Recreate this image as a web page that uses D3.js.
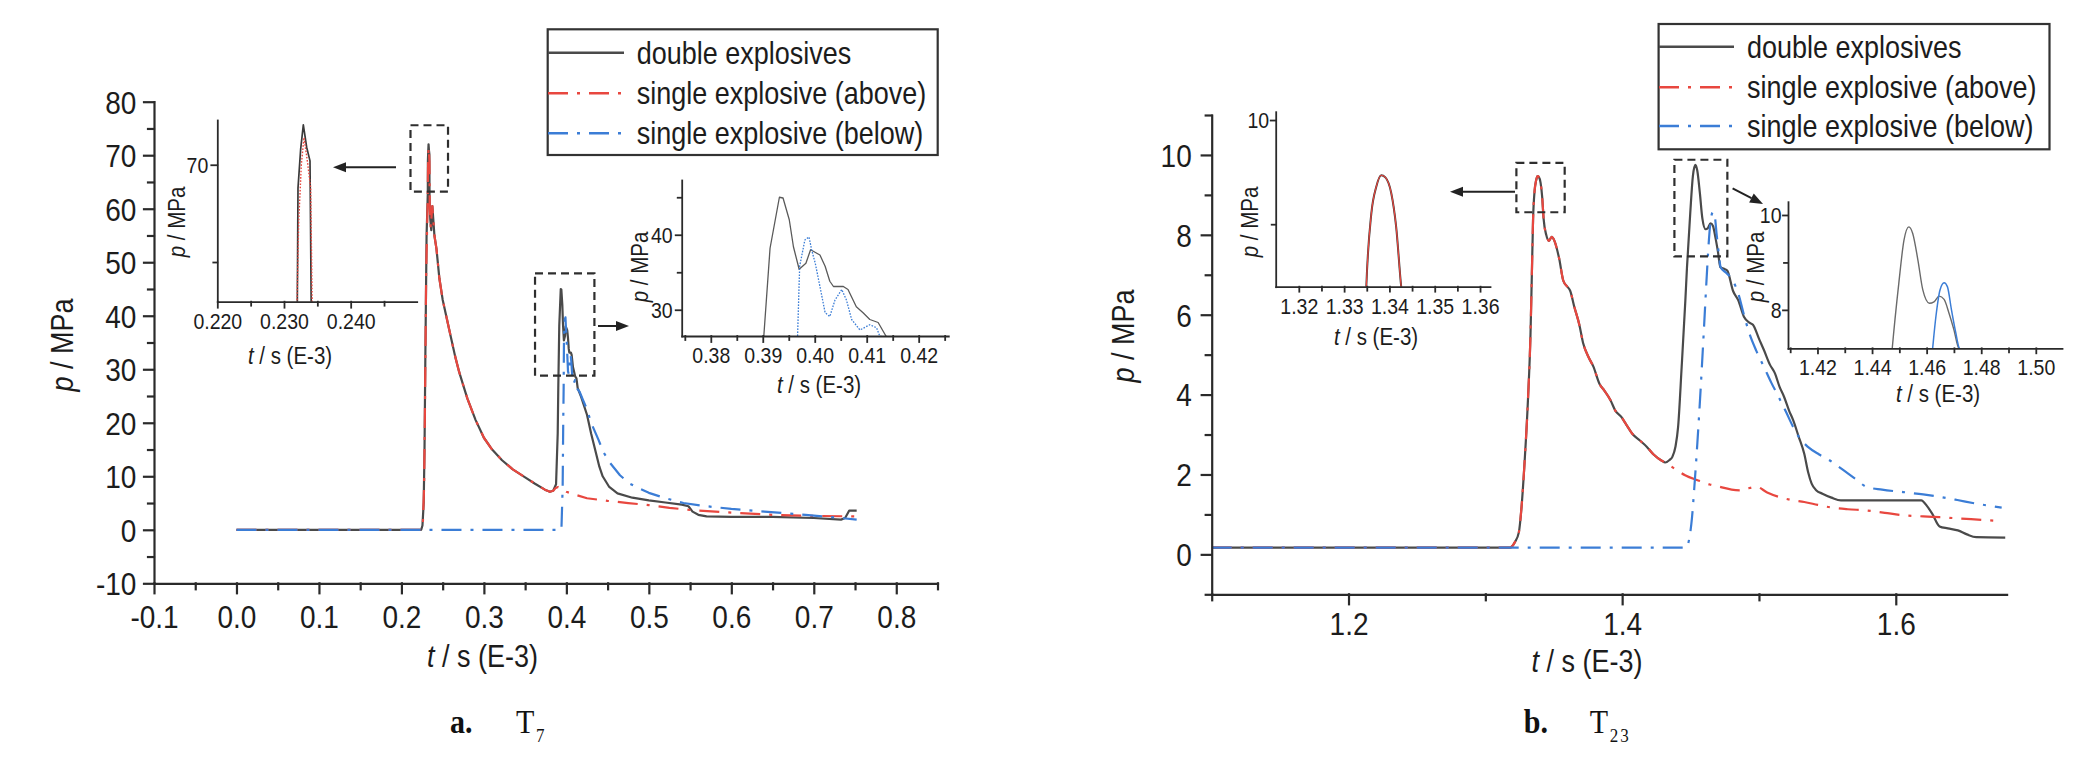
<!DOCTYPE html>
<html><head><meta charset="utf-8">
<script src="https://cdn.jsdelivr.net/npm/d3@7/dist/d3.min.js"></script>
<style>
body{margin:0;background:#fff;}
svg{display:block;}
</style></head><body>
<svg id="c" width="2074" height="761"></svg>
<script>
// ---------------- DATA ----------------
const seriesNames = ["double explosives", "single explosive (above)", "single explosive (below)"];

// panel a (T7): [t (E-3 s), p (MPa)]
const aDoubleRise = [[0,0],[0.224,0],[0.2255,0.8],[0.227,5],[0.228,15],[0.229,32],[0.2305,55],[0.2320,63],[0.2321,68.8],[0.2325,70.8],[0.2329,72.05],[0.2334,70.9],[0.2339,70.2],[0.2341,62],[0.2350,58],[0.2362,56]];
const aAboveRise = [[0,0],[0.2245,0],[0.2260,1.2],[0.2275,8],[0.2285,22],[0.2300,48],[0.2319,62],[0.2322,67],[0.2326,70],[0.2330,71.4],[0.2335,70.2],[0.2340,68.8],[0.2343,61],[0.2355,56.5]];
const aFirstDecay = [[0.2375,60.5],[0.240,55],[0.2425,52.5],[0.246,47],[0.250,43],[0.255,39.5],[0.260,36],[0.265,32.5],[0.270,29.5],[0.275,27],[0.280,24.5],[0.290,20.5],[0.300,17.2],[0.310,15],[0.322,13],[0.335,11.3],[0.350,9.8],[0.362,8.6],[0.374,7.5],[0.380,7.1]];
const aDoubleTail = [[0.384,7.3],[0.3875,8.5],[0.3895,18],[0.3902,26.5],[0.3914,38.2],[0.3932,45],[0.3939,44.9],[0.3951,42],[0.3959,38.4],[0.3970,35.4],[0.3983,36.2],[0.3992,38],[0.4010,37.3],[0.4020,35.8],[0.4029,33.8],[0.4036,33.1],[0.4055,33.1],[0.4064,32.7],[0.4080,30.4],[0.4093,29.6],[0.4106,28.7],[0.4122,28.3],[0.4137,26.5],[0.418,24.8],[0.425,21.5],[0.430,18],[0.434,15.5],[0.440,11.8],[0.444,10],[0.452,8],[0.462,6.8],[0.480,6.0],[0.500,5.5],[0.520,5.1],[0.540,4.7],[0.548,4.4],[0.553,3.4],[0.560,2.8],[0.570,2.5],[0.600,2.4],[0.650,2.4],[0.700,2.2],[0.733,1.9],[0.738,2.2],[0.743,3.6],[0.752,3.6]];
const aAboveTail = [[0.384,7.3],[0.387,7.8],[0.390,8.0],[0.393,7.6],[0.400,7.1],[0.410,6.6],[0.425,5.9],[0.450,5.4],[0.475,5.0],[0.500,4.6],[0.525,4.1],[0.550,3.7],[0.600,3.2],[0.650,2.8],[0.700,2.6],[0.750,2.5]];
const aBelow = [[0,0],[0.3940,0],[0.3955,8],[0.3962,20],[0.3967,26.5],[0.3971,35.8],[0.3981,39.3],[0.3989,39.7],[0.3994,38],[0.4001,36.2],[0.4010,33.1],[0.4020,29.6],[0.4029,29.1],[0.4039,31.3],[0.4052,32.7],[0.4061,31.3],[0.4071,28.7],[0.4087,27.3],[0.4106,28],[0.4119,27.6],[0.4125,26.5],[0.416,25.8],[0.420,24.3],[0.425,22.5],[0.430,20],[0.439,16.8],[0.445,14.5],[0.453,12.5],[0.465,10.2],[0.476,8.7],[0.490,7.6],[0.500,6.9],[0.520,5.9],[0.542,5.0],[0.570,4.4],[0.600,3.9],[0.640,3.4],[0.690,2.8],[0.733,2.2],[0.752,1.9]];

// panel b (T23)
const bShock = [[1.1,0.17],[1.318,0.17],[1.3215,0.3],[1.3245,0.55],[1.3265,1.2],[1.3285,2.2],[1.3312,3.9],[1.3330,5.5],[1.3340,7.0],[1.3349,8.4],[1.3360,9.1],[1.3371,9.36],[1.3382,9.47],[1.3391,9.45],[1.3404,9.3],[1.3415,8.97],[1.3426,8.4],[1.3445,8.0],[1.3465,7.85],[1.3485,7.95],[1.3505,7.85],[1.3540,7.4],[1.3570,6.85],[1.3600,6.7],[1.3620,6.6],[1.3650,6.2],[1.3687,5.75],[1.3714,5.3],[1.3754,4.94],[1.3790,4.7],[1.3834,4.27],[1.3870,4.1],[1.3915,3.86],[1.3950,3.6],[1.3994,3.44],[1.4030,3.25],[1.4074,3.02],[1.4130,2.85],[1.4181,2.69],[1.4230,2.5],[1.4287,2.35],[1.4315,2.30]];
const bDoubleTail = [[1.4345,2.36],[1.4367,2.44],[1.4390,2.7],[1.4409,3.19],[1.4435,4.69],[1.4462,6.36],[1.4474,7.19],[1.4498,8.56],[1.4517,9.47],[1.4535,9.75],[1.4549,9.61],[1.4568,9.05],[1.4586,8.42],[1.4610,8.14],[1.4627,8.17],[1.4646,8.29],[1.4664,8.22],[1.4682,7.93],[1.4700,7.58],[1.4718,7.19],[1.4745,7.15],[1.4769,7.1],[1.4810,6.6],[1.4849,6.36],[1.4890,5.95],[1.4930,5.8],[1.4956,5.75],[1.5000,5.4],[1.5037,5.11],[1.5080,4.75],[1.5117,4.53],[1.5150,4.2],[1.5184,3.94],[1.5220,3.6],[1.5250,3.36],[1.5290,2.95],[1.5331,2.52],[1.5360,2.05],[1.5385,1.77],[1.5420,1.6],[1.5464,1.52],[1.5530,1.42],[1.5599,1.35],[1.5785,1.35],[1.6000,1.35],[1.6186,1.35],[1.6230,1.2],[1.6266,1.02],[1.6320,0.7],[1.6380,0.65],[1.6454,0.6],[1.6520,0.5],[1.6588,0.43],[1.6800,0.42]];
const bAboveTail = [[1.4350,2.22],[1.4395,2.12],[1.4460,1.98],[1.4556,1.85],[1.4640,1.75],[1.4716,1.69],[1.4800,1.62],[1.4877,1.6],[1.4930,1.66],[1.4983,1.69],[1.5060,1.55],[1.5144,1.44],[1.5240,1.36],[1.5331,1.31],[1.5430,1.24],[1.5518,1.18],[1.5650,1.13],[1.5785,1.10],[1.5920,1.04],[1.6053,0.98],[1.6200,0.95],[1.6320,0.93],[1.6550,0.88],[1.6774,0.83]];
const bBelow = [[1.1,0.17],[1.447,0.17],[1.4488,0.35],[1.4510,0.9],[1.4528,1.7],[1.4550,2.8],[1.4569,3.86],[1.4596,5.53],[1.4622,7.19],[1.4634,7.86],[1.4649,8.42],[1.4664,8.57],[1.4676,8.49],[1.4691,8.0],[1.4706,7.54],[1.4720,7.19],[1.4760,7.05],[1.4800,6.9],[1.4849,6.53],[1.4890,6.0],[1.4930,5.53],[1.4980,5.1],[1.5037,4.69],[1.5090,4.3],[1.5144,3.94],[1.5200,3.55],[1.5250,3.19],[1.5300,2.9],[1.5358,2.69],[1.5440,2.5],[1.5518,2.35],[1.5580,2.2],[1.5652,2.02],[1.5720,1.85],[1.5785,1.69],[1.5900,1.62],[1.6053,1.56],[1.6200,1.5],[1.6320,1.44],[1.6450,1.36],[1.6588,1.27],[1.6774,1.17]];

// tick values
const aXMajor = [-0.1,0,0.1,0.2,0.3,0.4,0.5,0.6,0.7,0.8];
const aXMinor = [-0.05,0.05,0.15,0.25,0.35,0.45,0.55,0.65,0.75,0.85];
const aYMajor = [-10,0,10,20,30,40,50,60,70,80];
const aYMinor = [-5,5,15,25,35,45,55,65,75];
const bXMajor = [1.2,1.4,1.6];
const bXMinor = [1.1,1.3,1.5];
const bYMajor = [0,2,4,6,8,10];
const bYMinor = [-1,1,3,5,7,9,11];
const in1XMajor = [0.22,0.23,0.24], in1XMinor = [0.225,0.235,0.245], in1YMajor = [70], in1YMinor = [65];
const in2XMajor = [0.38,0.39,0.40,0.41,0.42], in2XMinor = [0.375,0.385,0.395,0.405,0.415,0.425], in2YMajor = [30,40], in2YMinor = [35,45];
const in3XMajor = [1.32,1.33,1.34,1.35,1.36], in3XMinor = [1.325,1.335,1.345,1.355], in3YMajor = [10], in3YMinor = [9];
const in4XMajor = [1.42,1.44,1.46,1.48,1.50], in4XMinor = [1.41,1.43,1.45,1.47,1.49], in4YMajor = [8,10], in4YMinor = [9];

// zoom boxes (data units: [t0,t1,p0,p1])
const zoomBoxA1 = [0.211,0.2565,63.2,75.6];
const zoomBoxA2 = [0.362,0.434,28.8,47.9];
const zoomBoxB1 = [1.3227,1.3580,8.565,9.80];
const zoomBoxB2 = [1.4382,1.4769,7.46,9.88];

// ---------------- DRAWING ----------------
const svg = d3.select("#c");
const FONT = "'Liberation Sans', Arial, sans-serif";
const K = 1.13;
const C = {dbl:"#4a4a4a", abv:"#e8473f", blw:"#3b7dd6", ink:"#1c1c1c", axis:"#2a2a2a"};
const DD = "20,9,3,9";
const fmt = f => d => d3.format(f)(d).replace("\u2212","-");

let clipN = 0;
function panel(x, y, o){
  const g = svg.append("g");
  const id = "clip" + (clipN++);
  svg.append("clipPath").attr("id", id).append("rect")
    .attr("x", x.range()[0]).attr("y", y.range()[1])
    .attr("width", x.range()[1]-x.range()[0]).attr("height", y.range()[0]-y.range()[1]);
  const lines = g.append("g").attr("clip-path", `url(#${id})`);
  const x0 = x.range()[0], yb = y.range()[0];
  const gxm = g.append("g").attr("transform", `translate(0,${yb})`)
    .call(d3.axisBottom(x).tickValues(o.xMinor).tickSize(o.minLen).tickSizeOuter(0).tickFormat(""));
  gxm.select(".domain").remove();
  const gym = g.append("g").attr("transform", `translate(${x0},0)`)
    .call(d3.axisLeft(y).tickValues(o.yMinor).tickSize(o.minLen).tickSizeOuter(0).tickFormat(""));
  gym.select(".domain").remove();
  const gx = g.append("g").attr("transform", `translate(0,${yb})`)
    .call(d3.axisBottom(x).tickValues(o.xMajor).tickSize(o.majLen).tickSizeOuter(0).tickFormat(o.xFmt));
  const gy = g.append("g").attr("transform", `translate(${x0},0)`)
    .call(d3.axisLeft(y).tickValues(o.yMajor).tickSize(o.majLen).tickPadding(o.yPad).tickSizeOuter(0).tickFormat(o.yFmt));
  g.selectAll(".domain, .tick line").attr("stroke", C.axis).attr("stroke-width", o.sw).attr("stroke-linecap","square");
  [gx, gy].forEach(s => s.attr("font-family", FONT));
  gx.selectAll("text").attr("y", o.xLab / K).attr("dy", 0).attr("transform", `scale(1,${K})`)
    .style("font-size", o.fs + "px").attr("fill", C.ink);
  gy.selectAll("text").attr("dy", "0.36em").attr("transform", `scale(1,${K})`)
    .style("font-size", o.fs + "px").attr("fill", C.ink);
  return lines;
}

function path(g, data, x, y, color, w, dash, curve){
  g.append("path").datum(data)
    .attr("d", d3.line().x(d => x(d[0])).y(d => y(d[1])).curve(curve || d3.curveLinear))
    .attr("fill", "none").attr("stroke", color).attr("stroke-width", w)
    .attr("stroke-dasharray", dash || null).attr("stroke-linejoin", "round");
}

function title(cx, cy, it, rest, fs, rot){
  const t = svg.append("text")
    .attr("transform", `translate(${cx},${cy})` + (rot ? " rotate(-90)" : "") + ` scale(1,${K})`)
    .attr("text-anchor", "middle").attr("font-family", FONT).style("font-size", fs + "px").attr("fill", C.ink);
  if (rot) t.attr("dy", "0.35em");
  t.append("tspan").attr("font-style", "italic").text(it);
  t.append("tspan").text(rest);
}

function dashedBox(x, y, b){
  svg.append("rect").attr("x", x(b[0])).attr("y", y(b[3]))
    .attr("width", x(b[1]) - x(b[0])).attr("height", y(b[2]) - y(b[3]))
    .attr("fill", "none").attr("stroke", "#2e2e2e").attr("stroke-width", 2.2).attr("stroke-dasharray", "8,5");
}

function arrow(x1, y1, x2, y2){
  const a = Math.atan2(y2 - y1, x2 - x1), L = 13, W = 5;
  const bx = x2 - L * Math.cos(a), by = y2 - L * Math.sin(a);
  svg.append("line").attr("x1", x1).attr("y1", y1).attr("x2", bx).attr("y2", by)
    .attr("stroke", "#222").attr("stroke-width", 2);
  svg.append("polygon").attr("points", [
    [x2, y2], [bx + W * Math.sin(a), by - W * Math.cos(a)], [bx - W * Math.sin(a), by + W * Math.cos(a)]
  ].map(p => p.join(",")).join(" ")).attr("fill", "#222");
}

function legend(x0, y0, x1, y1, rowsY, sx0, sx1, tx){
  svg.append("rect").attr("x", x0).attr("y", y0).attr("width", x1 - x0).attr("height", y1 - y0)
    .attr("fill", "#fff").attr("stroke", "#333").attr("stroke-width", 2.2);
  const styles = [[C.dbl, null], [C.abv, DD], [C.blw, DD]];
  seriesNames.forEach((n, i) => {
    svg.append("line").attr("x1", sx0).attr("x2", sx1).attr("y1", rowsY[i]).attr("y2", rowsY[i])
      .attr("stroke", styles[i][0]).attr("stroke-width", 2.6).attr("stroke-dasharray", styles[i][1]);
    svg.append("text").attr("transform", `translate(${tx},${rowsY[i]}) scale(1,${K})`).attr("dy", "0.36em")
      .attr("font-family", FONT).style("font-size", "27px").attr("fill", C.ink).text(n);
  });
}

// ===== Panel a =====
const xA = d3.scaleLinear([-0.1, 0.85], [154, 937.5]);
const yA = d3.scaleLinear([-10, 80], [583.3, 101.7]);
const gA = panel(xA, yA, {xMajor:aXMajor, xMinor:aXMinor, yMajor:aYMajor, yMinor:aYMinor,
  xFmt:fmt(".1f"), yFmt:fmt("d"), majLen:10, minLen:6, yPad:7.6, sw:2.2, fs:28, xLab:44.5});
const aDouble = aDoubleRise.concat(aFirstDecay, aDoubleTail);
const aAbove = aAboveRise.concat(aFirstDecay, aAboveTail);
path(gA, aDouble, xA, yA, C.dbl, 2.2);
path(gA, aAbove, xA, yA, C.abv, 2.2, DD);
path(gA, aBelow, xA, yA, C.blw, 2.2, DD);
title(482.5, 667, "t", " / s (E-3)", 27, false);
title(62, 345, "p", " / MPa", 27, true);
dashedBox(xA, yA, zoomBoxA1);
dashedBox(xA, yA, zoomBoxA2);
arrow(396, 167.3, 333, 167.3);
arrow(598, 326, 629, 326);

// inset a1
const xI1 = d3.scaleLinear([0.22, 0.2499], [217.3, 416.7]);
const yI1 = d3.scaleLinear([62.96, 72.3], [301.7, 120]);
const gI1 = panel(xI1, yI1, {xMajor:in1XMajor, xMinor:in1XMinor, yMajor:in1YMajor, yMinor:in1YMinor,
  xFmt:fmt(".3f"), yFmt:fmt("d"), majLen:6, minLen:4, yPad:3, sw:1.8, fs:19.5, xLab:27});
path(gI1, aDouble, xI1, yI1, "#3a3a3a", 1.7);
path(gI1, aAbove, xI1, yI1, C.abv, 1.4, "1.6,1.6");
title(290, 364, "t", " / s (E-3)", 20.5, false);
title(177, 222, "p", " / MPa", 20.5, true);

// inset a2
const xI2 = d3.scaleLinear([0.3744, 0.4257], [681.7, 948.3]);
const yI2 = d3.scaleLinear([26.5, 47.3], [336, 180]);
const gI2 = panel(xI2, yI2, {xMajor:in2XMajor, xMinor:in2XMinor, yMajor:in2YMajor, yMinor:in2YMinor,
  xFmt:fmt(".2f"), yFmt:fmt("d"), majLen:6, minLen:4, yPad:3, sw:1.8, fs:19.5, xLab:27});
path(gI2, aDouble, xI2, yI2, "#5a5a5a", 1.3);
path(gI2, aBelow, xI2, yI2, C.blw, 1.3, "1.6,1.4");
title(819, 393, "t", " / s (E-3)", 20.5, false);
title(640, 267, "p", " / MPa", 20.5, true);

// ===== Panel b =====
const xB = d3.scaleLinear([1.1, 1.681], [1211.7, 2006.6]);
const yB = d3.scaleLinear([-1, 11], [594.3, 115]);
const gB = panel(xB, yB, {xMajor:bXMajor, xMinor:bXMinor, yMajor:bYMajor, yMinor:bYMinor,
  xFmt:fmt(".1f"), yFmt:fmt("d"), majLen:10, minLen:6, yPad:10, sw:2.2, fs:28, xLab:40.7});
const bDouble = bShock.concat(bDoubleTail);
const bAbove = bShock.concat(bAboveTail);
path(gB, bDouble, xB, yB, C.dbl, 2.2, null, d3.curveMonotoneX);
path(gB, bAbove, xB, yB, C.abv, 2.2, DD, d3.curveMonotoneX);
path(gB, bBelow, xB, yB, C.blw, 2.2, DD, d3.curveMonotoneX);
title(1587, 671.5, "t", " / s (E-3)", 27, false);
title(1123, 336, "p", " / MPa", 27, true);
dashedBox(xB, yB, zoomBoxB1);
dashedBox(xB, yB, zoomBoxB2);
arrow(1515, 191.7, 1450, 191.7);
arrow(1732.6, 188.3, 1763, 204);

// inset b1
const xI3 = d3.scaleLinear([1.3149, 1.3622], [1275.7, 1490]);
const yI3 = d3.scaleLinear([8.4, 10.08], [286.7, 111.7]);
const gI3 = panel(xI3, yI3, {xMajor:in3XMajor, xMinor:in3XMinor, yMajor:in3YMajor, yMinor:in3YMinor,
  xFmt:fmt(".2f"), yFmt:fmt("d"), majLen:5, minLen:4, yPad:1.5, sw:1.8, fs:19.5, xLab:27});
path(gI3, bDouble, xI3, yI3, "#3a3a3a", 2.0, null, d3.curveMonotoneX);
path(gI3, bAbove, xI3, yI3, C.abv, 1.2, null, d3.curveMonotoneX);
title(1376, 345, "t", " / s (E-3)", 20.5, false);
title(1250, 222, "p", " / MPa", 20.5, true);

// inset b2
const xI4 = d3.scaleLinear([1.4092, 1.5096], [1788, 2062]);
const yI4 = d3.scaleLinear([7.19, 10.28], [348.3, 201.7]);
const gI4 = panel(xI4, yI4, {xMajor:in4XMajor, xMinor:in4XMinor, yMajor:in4YMajor, yMinor:in4YMinor,
  xFmt:fmt(".2f"), yFmt:fmt("d"), majLen:5, minLen:4, yPad:1.5, sw:1.8, fs:19.5, xLab:27});
path(gI4, bDouble, xI4, yI4, "#6a6a6a", 1.4, null, d3.curveMonotoneX);
path(gI4, bBelow, xI4, yI4, C.blw, 1.5, null, d3.curveMonotoneX);
title(1938, 402, "t", " / s (E-3)", 20.5, false);
title(1756, 267, "p", " / MPa", 20.5, true);

// legends
legend(547.7, 29.3, 937.7, 155, [52.7, 93.3, 133.3], 548, 624, 636.7);
legend(1658.6, 24, 2049.5, 149.3, [46.7, 87.3, 126], 1659, 1734, 1747);

// captions
function caption(x, lab, tx, sub){
  svg.append("text").attr("transform", `translate(${x},733) scale(1,${K})`)
    .attr("font-family", "'Liberation Serif', 'Times New Roman', serif").attr("font-weight", "bold")
    .style("font-size", "30px").attr("fill", "#111").text(lab);
  svg.append("text").attr("transform", `translate(${tx},733) scale(1,${K})`)
    .attr("font-family", "'Liberation Serif', 'Times New Roman', serif")
    .style("font-size", "30px").attr("fill", "#111").text("T");
  svg.append("text").attr("transform", `translate(${tx + 20},742) scale(1,${K})`)
    .attr("font-family", "'Liberation Serif', 'Times New Roman', serif").attr("letter-spacing", "2")
    .style("font-size", "17px").attr("fill", "#111").text(sub);
}
caption(450, "a.", 516, "7");
caption(1523.8, "b.", 1589.7, "23");
</script>
</body></html>
